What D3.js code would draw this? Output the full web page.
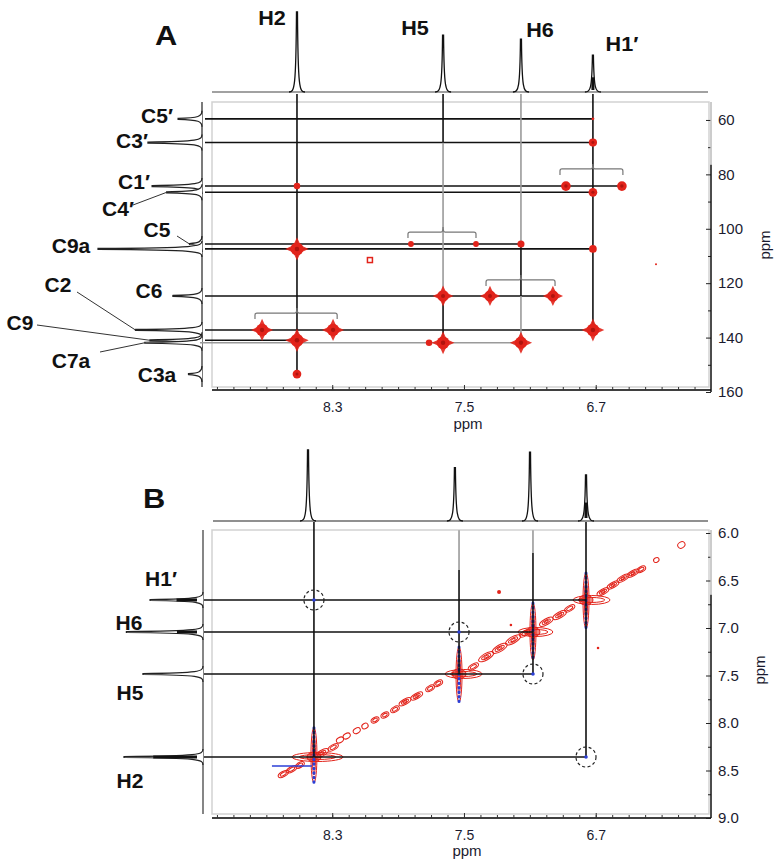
<!DOCTYPE html>
<html>
<head>
<meta charset="utf-8">
<script src="https://cdn.jsdelivr.net/npm/d3@7"></script>
<style>
  body { margin: 0; background: #fff; }
  svg { display: block; }
  text { font-family: "Liberation Sans", Arial, sans-serif; }
</style>
</head>
<body>
<svg id="chart" width="783" height="864"></svg>
<script>
// ---- datos ----
const protones = ['H2', 'H5', 'H6', 'H1′'];

// Panel A (HMBC 1H-13C)
const protonA = [8.514, 7.627, 7.154, 6.717];
const protonIntA = [1.0, 0.71, 0.66, 0.46];
const carbonos = ['C5′', 'C3′', 'C1′', 'C4′', 'C5', 'C9a', 'C6', 'C2', 'C9', 'C7a', 'C3a'];
const carbonShift = [59.6, 68.3, 84.3, 86.6, 105.6, 107.4, 124.7, 137.2, 141.0, 141.9, 153.4];
const carbonInt = [0.23, 0.52, 0.48, 0.34, 0.12, 1.0, 0.28, 0.64, 0.5, 0.55, 0.13];
// picos de correlacion [ppm 1H, ppm 13C, intensidad]
const picosA = [
  [8.514, 84.3, 0.25], [8.514, 107.4, 1.0], [8.726, 137.2, 0.9], [8.295, 137.2, 0.9],
  [8.514, 141.0, 1.0], [8.514, 153.4, 0.45], [7.822, 105.6, 0.2], [7.427, 105.6, 0.2],
  [7.154, 105.6, 0.3], [7.627, 124.7, 0.8], [7.342, 124.7, 0.75], [6.960, 124.7, 0.75],
  [7.712, 141.9, 0.25], [7.627, 141.9, 0.95], [7.154, 141.9, 0.9], [6.717, 59.6, 0.05],
  [6.717, 68.3, 0.4], [6.881, 84.3, 0.55], [6.541, 84.3, 0.55], [6.717, 86.6, 0.45],
  [6.717, 107.4, 0.35], [6.717, 137.2, 0.95], [6.334, 113.0, 0.02]
];
const artefactoA = [[8.071, 111.5]];
// lineas horizontales: [indice carbono, ppm 1H final, color]
const lineasHA = [
  [0, 6.717, 'k'], [1, 6.717, 'k'], [2, 6.541, 'k'], [3, 6.717, 'k'], [4, 7.154, 'k'],
  [5, 6.717, 'k'], [6, 6.960, 'k'], [7, 6.717, 'k'], [8, 8.514, 'k'], [9, 7.154, 'g']
];
// lineas verticales: [indice proton, ppm 13C inicio (null = espectro), fin, color]
const lineasVA = [
  [0, null, 153.4, 'k'],
  [1, null, 68.3, 'k'], [1, 68.3, 124.7, 'g'], [1, 124.7, 141.9, 'k'],
  [2, null, 105.6, 'g'], [2, 105.6, 124.7, 'k'], [2, 124.7, 141.9, 'g'],
  [3, null, 137.2, 'k']
];
// dobletes: [ppm izq, ppm der, ppm 13C de la llave, indice proton]
const llavesA = [[8.769, 8.270, 131.0, 0], [7.840, 7.427, 101.2, 1], [7.366, 6.947, 118.8, 2], [6.917, 6.535, 78.0, 3]];

// Panel B (ROESY 1H-1H)
const protonXB = [8.411, 7.530, 7.081, 6.759];
const protonYB = [8.358, 7.484, 7.042, 6.705];
const espectroB = [8.447, 7.555, 7.099, 6.759];
const protonIntTopB = [1.0, 0.75, 0.97, 0.65];
const protonIntLeftB = [1.0, 0.76, 0.97, 0.67];
const multipleteLeftB = [0.63, 0, 0.34, 0.5];
// brazos de los picos diagonales: [x izq, x der, y arriba, y abajo]
const brazosB = [[8.544, 8.235, 8.05, 8.63], [7.615, 7.39, 7.2, 7.78], [7.172, 6.96, 6.737, 7.337], [6.838, 6.613, 6.421, 7.0]];
// contornos de la diagonal: [ppm x, ppm y, longitud ppm]
const diagonalB = [
  [8.597, 8.537, 0.06], [8.546, 8.487, 0.06], [8.496, 8.442, 0.05], [8.364, 8.319, 0.08],
  [8.294, 8.256, 0.06], [8.253, 8.179, 0.04], [8.212, 8.137, 0.04], [8.151, 8.081, 0.04],
  [8.101, 8.032, 0.035], [8.040, 7.968, 0.045], [7.980, 7.916, 0.045], [7.919, 7.856, 0.05],
  [7.858, 7.776, 0.07], [7.787, 7.716, 0.07], [7.706, 7.635, 0.05], [7.656, 7.582, 0.05],
  [7.443, 7.407, 0.06], [7.365, 7.302, 0.09], [7.283, 7.214, 0.09], [7.202, 7.126, 0.09],
  [7.131, 7.056, 0.06], [7.000, 6.934, 0.08], [6.919, 6.863, 0.08], [6.858, 6.793, 0.06],
  [6.656, 6.618, 0.07], [6.595, 6.547, 0.07], [6.535, 6.477, 0.07], [6.474, 6.424, 0.07],
  [6.423, 6.382, 0.05], [6.332, 6.284, 0.03], [6.180, 6.126, 0.04]
];
const sueltosB = [[7.287, 6.621, 2], [7.215, 6.968, 1.3], [6.686, 7.210, 1.3]];
// lineas B
const lineasVB = [[0, null, 8.358, 'k'], [1, 5.97, 6.39, 'g'], [1, 6.39, 7.484, 'k'], [2, 5.97, 6.21, 'g'], [2, 6.21, 7.484, 'k'], [3, null, 8.358, 'k']];
const lineasHB = [[3, 6.759], [2, 7.081], [1, 7.081], [0, 6.759]];
// circulos NOE ausentes: [indice proton x, indice proton y]
const circulosB = [[0, 3], [1, 2], [2, 1], [3, 0]];
const artefactoAzulB = [8.666, 8.423, 8.453];

// ticks
const ticksX = [8.3, 7.5, 6.7];
const ticksYA = [60, 80, 100, 120, 140, 160];
const ticksYB = [6.0, 6.5, 7.0, 7.5, 8.0, 8.5, 9.0];

// ---- escalas ----
const svg = d3.select('#chart');
const NEGRO = '#111', GRIS = '#9a9a9a', ROJO = '#e2231a', AZUL = '#2b3fd6';
const col = c => c === 'k' ? NEGRO : GRIS;

const xA = d3.scaleLinear().domain([9.03, 6.0]).range([212, 711]);
const yA = d3.scaleLinear().domain([53.4, 160]).range([102, 392]);
const xB = xA.copy();
const yB = d3.scaleLinear().domain([6.0, 9.0]).range([533, 818]);
const topA = d3.scaleLinear().domain([0, 1]).range([92, 12]);
const leftA = d3.scaleLinear().domain([0, 1]).range([202, 98]);
const topB = d3.scaleLinear().domain([0, 1]).range([521, 450]);
const leftB = d3.scaleLinear().domain([0, 1]).range([203, 124]);
const radio = d3.scaleSqrt().domain([0, 1]).range([0, 6.5]);

function texto(g, x, y, s, o = {}) {
  return g.append('text')
    .attr('transform', `translate(${x},${y}) scale(${o.sx || 1},1)` + (o.rot ? ` rotate(${o.rot})` : ''))
    .attr('text-anchor', o.anchor || 'middle')
    .attr('font-size', o.size || 15)
    .attr('font-weight', o.weight || 'normal')
    .attr('fill', o.fill || '#111')
    .text(s);
}

function picoArriba(x, base, top) {
  return `M${x - 8},${base} C${x - 2.5},${base} ${x - 1},${base - 3} ${x - 0.5},${top} L${x + 0.5},${top} C${x + 1},${base - 3} ${x + 2.5},${base} ${x + 8},${base}`;
}
function picoIzq(y, base, tip) {
  return `M${base},${y - 8} C${base},${y - 2.5} ${base - 3},${y - 1} ${tip},${y - 0.5} L${tip},${y + 0.5} C${base - 3},${y + 1} ${base},${y + 2.5} ${base},${y + 8}`;
}
function estrella(r, s) {
  const pts = [];
  for (let i = 0; i < 8; i++) {
    const a = i * Math.PI / 4 - Math.PI / 2;
    const rr = i % 2 ? r * 0.8 : s;
    pts.push([Math.cos(a) * rr, Math.sin(a) * rr]);
  }
  return 'M' + pts.join('L') + 'Z';
}

function ejes(g, x, yScale, frame, ticksY, menoresY, fmt, quiebre) {
  // marco
  g.append('rect')
    .attr('x', frame.x0).attr('y', frame.y0)
    .attr('width', frame.x1 - frame.x0).attr('height', frame.y1 - frame.y0)
    .attr('fill', 'none').attr('stroke', '#d2d2d2').attr('stroke-width', 1.5);

  // eje inferior
  const ax = g.append('g').attr('transform', `translate(0,${frame.axisY})`);
  ax.call(d3.axisBottom(x).tickValues(d3.range(61, 91).map(d => d / 10)).tickSize(-3).tickFormat(''));
  ax.append('g').call(d3.axisBottom(x).tickValues(ticksX).tickSize(-5).tickPadding(12).tickFormat(d3.format('.1f')));
  ax.selectAll('.domain').attr('d', `M${frame.x0},0H${x.range()[1]}`).attr('stroke', '#333').attr('stroke-width', 1.3);
  ax.selectAll('.tick line').attr('stroke', '#333');
  ax.selectAll('text').attr('font-size', 14).attr('fill', '#1b1b2f')
    .attr('font-family', '"Liberation Sans", Arial, sans-serif');

  // eje derecho
  const ay = g.append('g').attr('transform', `translate(${x.range()[1]},0)`);
  ay.call(d3.axisRight(yScale).tickValues(menoresY).tickSize(-3).tickFormat(''));
  ay.append('g').call(d3.axisRight(yScale).tickValues(ticksY).tickSize(-5).tickPadding(7).tickFormat(fmt));
  ay.selectAll('.domain').remove();
  ay.selectAll('.tick line').attr('stroke', '#222');
  ay.selectAll('text').attr('font-size', 15).attr('fill', '#1b1b2f')
    .attr('font-family', '"Liberation Sans", Arial, sans-serif');
  ay.append('line').attr('y1', frame.y0).attr('y2', quiebre).attr('stroke', '#bbb').attr('stroke-width', 1.5);
  ay.append('line').attr('y1', quiebre).attr('y2', yScale.range()[1]).attr('stroke', NEGRO).attr('stroke-width', 1.5);
}

// ======== PANEL A ========
const gA = svg.append('g');
const frameA = { x0: 212, x1: 709, y0: 102, y1: 387, axisY: 390 };
ejes(gA, xA, yA, frameA, ticksYA, [70, 90, 110, 130, 150], d3.format('d'), yA(76.5));
texto(gA, 468, 429, 'ppm', { size: 15, fill: '#1b1b2f' });
texto(gA, 770, 245, 'ppm', { size: 15, rot: -90, fill: '#1b1b2f' });
texto(gA, 166, 45, 'A', { size: 28, weight: 'bold', sx: 1.1 });

// espectro superior A
gA.append('line').attr('x1', 212).attr('x2', 708).attr('y1', topA(0)).attr('y2', topA(0))
  .attr('stroke', '#444').attr('stroke-width', 1.1);
gA.selectAll('.picoTopA').data(protonA).enter().append('path')
  .attr('d', (d, i) => picoArriba(xA(d), topA(0), topA(protonIntA[i])))
  .attr('fill', 'none').attr('stroke', '#111').attr('stroke-width', 1.3);
gA.append('line').attr('x1', xA(protonA[3])).attr('x2', xA(protonA[3]))
  .attr('y1', topA(0) - 2).attr('y2', topA(0.4 * protonIntA[3])).attr('stroke', '#111').attr('stroke-width', 3);
const etiqTopA = [[272, 25], [415, 35], [540, 37], [622, 51]];
protones.forEach((p, i) => texto(gA, etiqTopA[i][0], etiqTopA[i][1], p, { size: 20, weight: 'bold', sx: 1.08 }));

// espectro izquierdo A (13C)
gA.append('line').attr('x1', leftA(0)).attr('x2', leftA(0)).attr('y1', frameA.y0).attr('y2', frameA.y1)
  .attr('stroke', '#333').attr('stroke-width', 1.3);
gA.selectAll('.picoIzqA').data(carbonShift).enter().append('path')
  .attr('d', (d, i) => picoIzq(yA(d), leftA(0), leftA(carbonInt[i])))
  .attr('fill', '#fff').attr('stroke', '#222').attr('stroke-width', 1.2);
const etiqLeftA = [[157, 123], [132, 148], [134, 189], [118, 216], [157, 237], [71, 253], [149, 298], [58, 292], [20, 330], [71, 368], [157, 382]];
const guiasA = { 3: [133, 205], 4: [177, 236], 7: [77, 292], 8: [37, 325], 9: [100, 352] };
Object.entries(guiasA).forEach(([i, p]) => {
  gA.append('line').attr('x1', p[0]).attr('y1', p[1])
    .attr('x2', leftA(carbonInt[i])).attr('y2', yA(carbonShift[i]))
    .attr('stroke', '#333').attr('stroke-width', 1);
});
carbonos.forEach((c, i) => texto(gA, etiqLeftA[i][0], etiqLeftA[i][1], c, { size: 20, weight: 'bold', sx: 1.05 }));

// picos de correlacion A
const gPicosA = gA.append('g');
picosA.forEach(([px, py, it]) => {
  const r = Math.max(radio(it), 1);
  const g = gPicosA.append('g').attr('transform', `translate(${xA(px)},${yA(py)})`);
  if (it >= 0.7) {
    g.append('path').attr('d', estrella(r, r * 1.8)).attr('fill', ROJO).attr('opacity', 0.9);
  }
  g.append('circle').attr('r', r).attr('fill', ROJO);
  if (it >= 0.4) g.append('circle').attr('r', r * 0.35).attr('fill', '#b0140e');
});
artefactoA.forEach(([px, py]) => {
  gPicosA.append('rect').attr('x', xA(px) - 2.5).attr('y', yA(py) - 2.5).attr('width', 5).attr('height', 5)
    .attr('fill', 'none').attr('stroke', ROJO).attr('stroke-width', 1.5);
});

// lineas A (grises primero)
const gLinA = gA.append('g');
const ordenar = arr => arr.slice().sort((a, b) => (a[a.length - 1] === 'g' ? 0 : 1) - (b[b.length - 1] === 'g' ? 0 : 1));
ordenar(lineasHA).forEach(([ci, fin, c]) => {
  gLinA.append('line')
    .attr('x1', c === 'g' ? 200 : 205).attr('x2', xA(fin))
    .attr('y1', yA(carbonShift[ci])).attr('y2', yA(carbonShift[ci]))
    .attr('stroke', col(c)).attr('stroke-width', 1.6);
});
ordenar(lineasVA).forEach(([pi, y0, y1, c]) => {
  gLinA.append('line')
    .attr('x1', xA(protonA[pi])).attr('x2', xA(protonA[pi]))
    .attr('y1', y0 === null ? topA(0) + 2 : yA(y0)).attr('y2', yA(y1))
    .attr('stroke', col(c)).attr('stroke-width', 1.6);
});
gPicosA.raise();

// llaves de acoplamiento
llavesA.forEach(([a, b, yy, pi]) => {
  const x0 = xA(a), x1 = xA(b), y = yA(yy), xc = xA(protonA[pi]);
  gA.append('path')
    .attr('d', `M${x0},${y + 6} L${x0},${y + 2} Q${x0},${y} ${x0 + 2},${y} L${xc - 2},${y} Q${xc},${y} ${xc},${y - 5} Q${xc},${y} ${xc + 2},${y} L${x1 - 2},${y} Q${x1},${y} ${x1},${y + 2} L${x1},${y + 6}`)
    .attr('fill', 'none').attr('stroke', '#777').attr('stroke-width', 1.2);
});

// ======== PANEL B ========
const gB = svg.append('g');
const frameB = { x0: 212, x1: 709, y0: 530, y1: 814, axisY: 818 };
ejes(gB, xB, yB, frameB, ticksYB, [6.25, 6.75, 7.25, 7.75, 8.25, 8.75], d3.format('.1f'), yB(6.65));
texto(gB, 467, 856, 'ppm', { size: 15, fill: '#1b1b2f' });
texto(gB, 765, 670, 'ppm', { size: 15, rot: -90, fill: '#1b1b2f' });
texto(gB, 154, 508, 'B', { size: 28, weight: 'bold', sx: 1.1 });

// espectro superior B
gB.append('line').attr('x1', 213).attr('x2', 708).attr('y1', topB(0)).attr('y2', topB(0))
  .attr('stroke', '#222').attr('stroke-width', 1.2);
gB.selectAll('.picoTopB').data(espectroB).enter().append('path')
  .attr('d', (d, i) => picoArriba(xB(d), topB(0), topB(protonIntTopB[i])))
  .attr('fill', 'none').attr('stroke', '#111').attr('stroke-width', 1.3);
gB.append('line').attr('x1', xB(espectroB[3])).attr('x2', xB(espectroB[3]))
  .attr('y1', topB(0) - 3).attr('y2', topB(0.4 * protonIntTopB[3])).attr('stroke', '#111').attr('stroke-width', 3);

// espectro izquierdo B
gB.append('line').attr('x1', leftB(0)).attr('x2', leftB(0)).attr('y1', frameB.y0).attr('y2', frameB.y1)
  .attr('stroke', '#444').attr('stroke-width', 1.3);
gB.selectAll('.picoIzqB').data(protonYB).enter().append('path')
  .attr('d', (d, i) => picoIzq(yB(d), leftB(0), leftB(protonIntLeftB[i])))
  .attr('fill', '#fff').attr('stroke', '#222').attr('stroke-width', 1.2);
protonYB.forEach((d, i) => {
  if (!multipleteLeftB[i]) return;
  gB.append('line').attr('y1', yB(d)).attr('y2', yB(d))
    .attr('x1', leftB(0) - 6).attr('x2', leftB(multipleteLeftB[i] * protonIntLeftB[i]))
    .attr('stroke', '#111').attr('stroke-width', 3);
});
const etiqLeftB = [[130, 788], [130, 700], [129, 630], [161, 586]];
protones.forEach((p, i) => texto(gB, etiqLeftB[i][0], etiqLeftB[i][1], p, { size: 21, weight: 'bold' }));

// contornos diagonales
const angulo = Math.atan2(yB(9) - yB(6), xB(9) - xB(6)) * 180 / Math.PI;
const cosA = Math.abs(Math.cos(angulo * Math.PI / 180));
const gCont = gB.append('g').attr('fill', 'none').attr('stroke', ROJO).attr('stroke-width', 1);
diagonalB.forEach(([px, py, len], i) => {
  const rx = Math.abs(xB(0) - xB(len)) / 2 / cosA;
  const ry = i >= diagonalB.length - 2 ? rx * 0.8 : Math.max(2.6, rx * 0.38);
  const g = gCont.append('g').attr('transform', `translate(${xB(px)},${yB(py)}) rotate(${angulo})`);
  g.append('ellipse').attr('rx', rx).attr('ry', ry);
  if (rx > 4) g.append('ellipse').attr('rx', rx * 0.6).attr('ry', ry * 0.55);
  if (rx > 6.5) g.append('ellipse').attr('rx', rx * 0.3).attr('ry', ry * 0.3);
});

// picos diagonales (cruces)
brazosB.forEach(([xl, xr, yt, yb], i) => {
  const cx = xB(protonXB[i]), cy = yB(protonYB[i]);
  // cresta azul (t1 noise)
  gB.append('line').attr('x1', cx).attr('x2', cx).attr('y1', yB(yt)).attr('y2', yB(yb))
    .attr('stroke', AZUL).attr('stroke-width', 3).attr('stroke-dasharray', '0.5,4').attr('stroke-linecap', 'round');
  const g = gCont.append('g');
  const x0 = xB(xl), x1 = xB(xr), y0 = yB(yt), y1 = yB(yb);
  g.append('ellipse').attr('cx', (x0 + x1) / 2).attr('cy', cy).attr('rx', (x1 - x0) / 2).attr('ry', 4.5);
  g.append('ellipse').attr('cx', (x0 + x1) / 2).attr('cy', cy).attr('rx', (x1 - x0) / 2.8).attr('ry', 2.5);
  g.append('ellipse').attr('cx', cx).attr('cy', (y0 + y1) / 2).attr('rx', 3).attr('ry', (y1 - y0) / 2);
  g.append('ellipse').attr('cx', cx).attr('cy', (y0 + y1) / 2).attr('rx', 1.6).attr('ry', (y1 - y0) / 2.8);
  g.append('ellipse').attr('cx', cx).attr('cy', cy).attr('rx', 7).attr('ry', 5).attr('fill', ROJO).attr('fill-opacity', 0.55);
});
gB.append('line')
  .attr('x1', xB(artefactoAzulB[0])).attr('x2', xB(artefactoAzulB[1]))
  .attr('y1', yB(artefactoAzulB[2])).attr('y2', yB(artefactoAzulB[2]))
  .attr('stroke', AZUL).attr('stroke-width', 1.5);
sueltosB.forEach(([px, py, r]) => {
  gB.append('circle').attr('cx', xB(px)).attr('cy', yB(py)).attr('r', r).attr('fill', ROJO);
});

// lineas B
ordenar(lineasVB).forEach(([pi, y0, y1, c]) => {
  gB.append('line')
    .attr('x1', xB(protonXB[pi])).attr('x2', xB(protonXB[pi]))
    .attr('y1', y0 === null ? topB(0) + 1 : yB(y0)).attr('y2', yB(y1))
    .attr('stroke', col(c)).attr('stroke-width', 1.6);
});
lineasHB.forEach(([pi, fin]) => {
  gB.append('line')
    .attr('x1', leftB(0) + 1).attr('x2', xB(fin))
    .attr('y1', yB(protonYB[pi])).attr('y2', yB(protonYB[pi]))
    .attr('stroke', NEGRO).attr('stroke-width', 1.6);
});

// circulos punteados
circulosB.forEach(([ix, iy]) => {
  const cx = xB(protonXB[ix]), cy = yB(protonYB[iy]);
  gB.append('circle').attr('cx', cx).attr('cy', cy).attr('r', 10)
    .attr('fill', 'none').attr('stroke', '#222').attr('stroke-width', 1.2).attr('stroke-dasharray', '3,2.5');
  gB.append('circle').attr('cx', cx).attr('cy', cy).attr('r', 1.8).attr('fill', AZUL);
});
</script>
</body>
</html>
